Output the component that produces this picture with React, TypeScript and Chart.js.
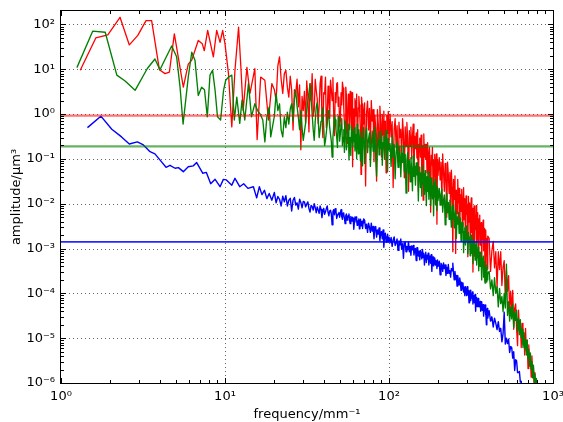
import { useEffect, useRef } from 'react';
import { Chart, registerables } from 'chart.js';

Chart.register(...registerables);

// ---------- data ----------
const redLowFreq = [1.31, 1.63, 1.93, 2.29, 2.61, 2.94, 3.3, 3.57, 3.98, 4.31, 4.58, 4.91, 5.57, 5.97, 6.27, 6.87, 7.27, 7.48, 7.84, 8.49, 8.9, 9.33, 9.68, 10.0, 10.5, 11.0, 11.5, 12.1, 12.5, 12.9, 13.6, 14.2, 15.2, 15.7, 16.5, 17.5, 18.4, 19.3];
const redLowAmp = [9.5, 50, 59, 145, 35, 57, 122, 122, 9.8, 8.0, 8.6, 62, 4.0, 13, 16, 44, 37, 26, 74, 19, 74, 40, 74, 37, 8, 0.52, 9.5, 87, 11, 1.2, 11, 2.9, 10.4, 0.27, 6.7, 5.7, 0.74, 4.8];

const greenLowFreq = [1.25, 1.56, 1.86, 2.19, 2.46, 2.83, 3.36, 3.74, 4.01, 4.73, 5.07, 5.32, 5.55, 5.97, 6.27, 6.56, 6.87, 7.2, 7.5, 7.8, 8.1, 8.4, 8.7, 9.0, 9.4, 9.8, 10.1, 10.5, 11.0, 11.4, 11.8, 12.3, 12.7, 13.2, 13.9, 14.5, 15.2, 15.8, 16.4, 17.0, 17.5, 18.0, 18.6, 19.0];
const greenLowAmp = [10.9, 71, 67, 7.4, 5.5, 3.4, 10.4, 17, 9.8, 33, 19, 4.0, 0.6, 6.7, 24, 16, 2.6, 4.0, 3.5, 0.87, 7.4, 9.5, 3.4, 0.87, 0.74, 3.4, 5.7, 6.7, 7.4, 0.74, 2.4, 0.62, 2.05, 0.74, 4.8, 0.87, 1.7, 1.2, 1.0, 0.74, 0.24, 0.87, 1.45, 0.31];

const blueLowFreq = [1.45, 1.75, 2.04, 2.34, 2.61, 2.92, 3.18, 3.49, 3.74, 4.01, 4.37, 4.62, 4.96, 5.2, 5.57, 5.97, 6.4, 6.72, 7.31, 7.7, 8.18, 8.7, 9.33, 9.77, 10.2, 11.0, 11.5, 12.3, 13.0, 13.8, 14.9, 15.6, 16.2, 16.8, 17.4, 18.0, 18.6, 19.3];
const blueLowAmp = [0.5, 0.9, 0.46, 0.31, 0.215, 0.24, 0.205, 0.145, 0.13, 0.095, 0.065, 0.072, 0.062, 0.064, 0.052, 0.067, 0.07, 0.083, 0.048, 0.05, 0.028, 0.035, 0.024, 0.035, 0.034, 0.026, 0.037, 0.024, 0.028, 0.022, 0.024, 0.0135, 0.024, 0.016, 0.02, 0.013, 0.017, 0.012];

// dense part (shared frequency bins)
const bandFreq = [
  20, 20.5, 21, 21.5, 22, 22.5, 23, 23.5, 24, 24.5, 25, 25.5, 26, 26.5, 27, 27.5, 28, 28.5, 29, 29.5, 30,
  30.5, 31, 31.5, 32, 32.5, 33, 33.5, 34, 34.5, 35, 35.5, 36, 36.5, 37, 37.5, 38, 38.5, 39, 39.5, 40,
  40.5, 41, 41.5, 42, 42.5, 43, 43.5, 44, 44.5, 45, 45.5, 46, 46.5, 47, 47.5, 48, 48.5, 49, 49.5, 50,
  50.5, 51, 51.5, 52, 52.5, 53, 53.5, 54, 54.5, 55, 55.5, 56, 56.5, 57, 57.5, 58, 58.5, 59, 59.5, 60,
  60.5, 61, 61.5, 62, 62.5, 63, 63.5, 64, 64.5, 65, 65.5, 66, 66.5, 67, 67.5, 68, 68.5, 69, 69.5, 70,
  71, 72, 73, 74, 75, 76, 77, 78, 79, 80, 81, 82, 83, 84, 85, 86, 87, 88, 89, 90,
  91, 92, 93, 94, 95, 96, 97, 98, 99, 100,
  101.5, 103, 104.5, 106, 107.5, 109, 110.5, 112, 113.5, 115, 116.5, 118, 119.5, 121, 122.5, 124, 125.5, 127, 128.5, 130,
  131.5, 133, 134.5, 136, 137.5, 139, 140.5, 142, 143.5, 145, 146.5, 148, 149.5, 151, 152.5, 154, 155.5, 157, 158.5, 160,
  161.5, 163, 164.5, 166, 167.5, 169, 170.5, 172, 173.5, 175, 176.5, 178, 179.5, 181, 182.5, 184, 185.5, 187, 188.5, 190,
  191.5, 193, 194.5, 196, 197.5, 199,
  202.5, 205, 207.5, 210, 212.5, 215, 217.5, 220, 222.5, 225, 227.5, 230, 232.5, 235, 237.5, 240, 242.5, 245, 247.5, 250,
  252.5, 255, 257.5, 260, 262.5, 265, 267.5, 270, 272.5, 275, 277.5, 280, 282.5, 285, 287.5, 290, 292.5, 295, 297.5, 300,
  302.5, 305, 307.5, 310, 312.5, 315, 317.5, 320, 322.5, 325, 327.5, 330, 332.5, 335, 337.5, 340, 342.5, 345, 347.5, 350,
  352.5, 355, 357.5, 360, 362.5, 365, 367.5, 370, 372.5, 375, 377.5, 380, 382.5, 385, 387.5, 390, 392.5, 395, 397.5, 400,
  408, 416, 424, 432, 440, 448, 456, 464, 472, 480, 488, 496, 504, 512, 520, 528, 536, 544, 552, 560,
  568, 576, 584, 592, 600, 608, 616, 624, 632, 640, 648, 656, 664, 672, 680, 688, 696, 704, 712, 720,
  728, 736, 744, 752, 760, 768, 776, 784, 792, 800, 808, 816, 824, 832, 840, 848,
];

const redBandAmp = [
  3.5, 2.0, 12, 19, 6, 2.9, 8, 9.5, 4.0, 2.4, 7, 3.4, 0.44, 3.5, 2.9, 6, 1.45, 4.5, 0.16, 2.5, 1.2,
  3.2, 0.63, 5.5, 2.5, 0.4, 4.8, 2.0, 8.0, 0.9, 1.2, 6.0, 3.4, 2.2, 0.62, 1.5, 4.8, 7.0, 0.87, 0.3, 3.0,
  2.8, 6.7, 0.5, 1.0, 4.2, 1.7, 0.8, 5.7, 3.6, 2.0, 6.5, 0.95, 0.33, 3.0, 1.8, 4.8, 5.0, 1.5, 2.4, 0.52,
  0.7, 3.0, 1.6, 5.2, 3.8, 1.4, 0.6, 0.37, 4.0, 2.6, 0.22, 0.9, 2.8, 1.2, 0.45, 3.2, 1.9, 0.5, 3.0, 0.067,
  1.3, 0.74, 0.28, 2.2, 0.9, 2.0, 2.8, 0.26, 0.5, 1.4, 2.5, 1.6, 0.8, 0.35, 0.045, 2.4, 1.7, 0.16, 0.6, 1.1,
  1.78, 0.025, 1.1, 1.95, 0.44, 1.35, 0.21, 2.0, 0.7, 1.26, 0.087, 0.95, 0.47, 0.032, 1.26, 0.62, 0.24, 1.5, 0.65, 0.11,
  0.98, 0.34, 1.17, 0.16, 0.7, 0.049, 0.95, 0.37, 1.15, 0.22,
  1.0, 0.31, 0.68, 0.023, 0.46, 0.79, 0.18, 0.55, 0.085, 0.66, 0.3, 0.46, 0.1, 0.79, 0.35, 0.038, 0.52, 0.19, 0.65, 0.28,
  0.019, 0.43, 0.19, 0.51, 0.1, 0.31, 0.6, 0.047, 0.32, 0.17, 0.38, 0.105, 0.45, 0.019, 0.21, 0.29, 0.11, 0.34, 0.047, 0.2,
  0.012, 0.36, 0.11, 0.21, 0.1, 0.21, 0.049, 0.23, 0.025, 0.12, 0.18, 0.06, 0.0065, 0.12, 0.074, 0.18, 0.025, 0.093, 0.041, 0.126,
  0.0098, 0.076, 0.13, 0.0035, 0.098, 0.043,
  0.107, 0.034, 0.085, 0.013, 0.129, 0.05, 0.019, 0.079, 0.034, 0.005, 0.085, 0.045, 0.017, 0.05, 0.0076, 0.056, 0.023, 0.00085, 0.035, 0.0126,
  0.042, 0.00078, 0.02, 0.006, 0.035, 0.0105, 0.022, 0.0023, 0.016, 0.0068, 0.021, 0.0032, 0.0107, 0.023, 0.0044, 0.013, 0.00126, 0.015, 0.0058, 0.0098,
  0.00066, 0.0145, 0.0039, 0.0105, 0.0018, 0.0071, 0.0135, 0.0023, 0.0079, 0.0003, 0.0047, 0.0089, 0.00068, 0.0056, 0.0027, 0.0091, 0.0014, 0.0042, 0.0063, 0.00076,
  0.0046, 0.0021, 0.0056, 0.0012, 0.0028, 0.0038, 0.0004, 0.003, 0.0016, 0.0043, 0.00089, 0.0021, 0.0028, 0.00019, 0.00155, 0.0026, 0.00069, 0.00166, 0.00035, 0.0019,
  0.0017, 0.00031, 0.00089, 0.00145, 0.00037, 0.00085, 0.000135, 0.00085, 0.00034, 0.00085, 0.00015, 0.00038, 0.00054, 0.000074, 0.00032, 0.000112, 0.00025, 0.00004, 0.000112, 0.000041,
  0.000117, 0.0000158, 0.000047, 0.000058, 0.0000158, 0.0000068, 0.000042, 0.0000162, 0.000025, 0.0000062, 0.0000214, 0.0000074, 0.0000132, 0.0000042, 0.0000166, 0.0000051, 0.0000089, 0.0000021, 0.0000071, 0.0000024,
  0.000004, 0.00000135, 0.000004, 0.00000135, 0.0000022, 0.00000083, 0.0000017, 0.00000069, 0.0000011, 0.00000048, 0.0000008, 0.00000038, 0.00000056, 0.0000003, 0.0000004, 0.0000002,
];

const greenBandAmp = [
  0.9, 2.9, 1.2, 1.7, 0.44, 0.31, 0.87, 0.5, 1.1, 0.6, 1.3, 1.7, 0.7, 2.2, 3.4, 1.5, 0.87, 0.45, 1.2, 0.5, 0.26,
  0.4, 0.63, 1.2, 2.0, 3.0, 4.8, 2.2, 1.0, 0.45, 0.26, 0.7, 1.45, 1.8, 0.8, 0.3, 0.44, 0.7, 1.1, 1.4, 0.5,
  0.2, 0.26, 0.4, 0.6, 1.2, 0.87, 0.5, 0.35, 0.25, 0.11, 0.3, 0.5, 1.0, 0.74, 0.45, 0.3, 0.18, 0.9, 0.6, 0.25,
  0.35, 0.6, 0.8, 0.2, 0.3, 0.45, 0.14, 0.7, 0.5, 0.16, 0.3, 0.4, 0.6, 0.095, 0.2, 0.3, 0.12, 0.55, 0.4, 0.2,
  0.25, 0.44, 0.5, 0.15, 0.28, 0.35, 0.1, 0.6, 0.35, 0.13, 0.45, 0.3, 0.18, 0.09, 0.3, 0.4, 0.07, 0.2, 0.28, 0.5,
  0.079, 0.35, 0.49, 0.138, 0.275, 0.38, 0.068, 0.21, 0.42, 0.148, 0.295, 0.51, 0.102, 0.041, 0.224, 0.4, 0.123, 0.27, 0.17, 0.42,
  0.072, 0.23, 0.32, 0.098, 0.275, 0.43, 0.132, 0.052, 0.29, 0.158,
  0.22, 0.068, 0.33, 0.11, 0.21, 0.036, 0.14, 0.24, 0.065, 0.138, 0.19, 0.04, 0.135, 0.083, 0.195, 0.052, 0.126, 0.0174, 0.093, 0.14,
  0.048, 0.091, 0.031, 0.107, 0.058, 0.0195, 0.117, 0.041, 0.069, 0.026, 0.081, 0.044, 0.083, 0.0115, 0.049, 0.066, 0.023, 0.049, 0.0148, 0.071,
  0.0275, 0.047, 0.0162, 0.055, 0.027, 0.0091, 0.04, 0.019, 0.052, 0.0126, 0.031, 0.037, 0.0091, 0.0245, 0.038, 0.0129, 0.025, 0.0054, 0.0295, 0.0141,
  0.035, 0.0093, 0.0204, 0.0071, 0.024, 0.0117,
  0.022, 0.0093, 0.0158, 0.0214, 0.0065, 0.012, 0.0158, 0.0034, 0.0115, 0.017, 0.0063, 0.0107, 0.0045, 0.012, 0.0063, 0.003, 0.0087, 0.0046, 0.0098, 0.0029,
  0.0055, 0.0072, 0.0017, 0.0051, 0.0035, 0.0065, 0.0022, 0.0036, 0.0048, 0.00145, 0.0038, 0.0023, 0.0038, 0.00081, 0.0024, 0.0029, 0.0012, 0.0032, 0.0015, 0.002,
  0.00076, 0.0023, 0.00135, 0.0018, 0.00069, 0.00135, 0.002, 0.00078, 0.00132, 0.00046, 0.00155, 0.00083, 0.00126, 0.00055, 0.00093, 0.0014, 0.00043, 0.00093, 0.00063, 0.00107,
  0.00032, 0.00069, 0.00083, 0.0004, 0.00083, 0.00044, 0.0002, 0.0006, 0.00041, 0.00068, 0.00023, 0.00043, 0.00051, 0.00017, 0.00032, 0.00038, 0.00018, 0.00043, 0.0002, 0.00027,
  0.00031, 0.000126, 0.0002, 0.000089, 0.000224, 0.0001, 0.000141, 0.00005, 0.000129, 0.000059, 0.000085, 0.000039, 0.0001, 0.000047, 0.00045, 0.000032, 0.000065, 0.000024, 0.00005, 0.000027,
  0.000058, 0.0000174, 0.000038, 0.000025, 0.000042, 0.0000145, 0.000028, 0.000012, 0.000026, 0.0000102, 0.0000158, 0.0000062, 0.0000135, 0.0000059, 0.0000093, 0.0000042, 0.0000091, 0.0000035, 0.0000056, 0.0000024,
  0.0000047, 0.000002, 0.000003, 0.0000013, 0.0000025, 0.00000105, 0.0000016, 0.00000083, 0.00000126, 0.0000006, 0.0000008, 0.00000043, 0.00000056, 0.0000003, 0.00000045, 0.00000021,
];

const blueBandAmp = [
  0.0178, 0.0105, 0.0145, 0.0126, 0.0089, 0.0148, 0.011, 0.0151, 0.0089, 0.012, 0.0132, 0.0069, 0.012, 0.0138, 0.0093, 0.0105, 0.0076, 0.0126, 0.0107, 0.0081, 0.0112,
  0.011, 0.0085, 0.0098, 0.011, 0.0078, 0.0065, 0.0092, 0.0087, 0.0072, 0.01, 0.0082, 0.0063, 0.0085, 0.0072, 0.0061, 0.0089, 0.0075, 0.0049, 0.0068, 0.0079,
  0.0058, 0.0066, 0.0078, 0.0089, 0.0064, 0.0054, 0.0069, 0.0072, 0.0059, 0.0034, 0.0066, 0.0074, 0.0057, 0.0078, 0.0068, 0.0047, 0.0055, 0.006, 0.0064, 0.005,
  0.0061, 0.0074, 0.0052, 0.0045, 0.0062, 0.0059, 0.0047, 0.0036, 0.0054, 0.0059, 0.0043, 0.0048, 0.0055, 0.0059, 0.0042, 0.0036, 0.0052, 0.0048, 0.0041, 0.005,
  0.0047, 0.0027, 0.0039, 0.0051, 0.0044, 0.0051, 0.0042, 0.0033, 0.0037, 0.0043, 0.0046, 0.00275, 0.0038, 0.0045, 0.0032, 0.0036, 0.0041, 0.0028, 0.0037, 0.0046,
  0.0043, 0.0028, 0.0035, 0.0023, 0.0037, 0.003, 0.0023, 0.0037, 0.00245, 0.0031, 0.00166, 0.0028, 0.0031, 0.0018, 0.0026, 0.0021, 0.0029, 0.0015, 0.0022, 0.0024,
  0.00166, 0.0026, 0.00107, 0.002, 0.0022, 0.00138, 0.0017, 0.0021, 0.0014, 0.0018,
  0.00135, 0.00178, 0.00112, 0.00155, 0.00182, 0.00117, 0.00135, 0.00163, 0.00091, 0.00148, 0.0012, 0.00163, 0.00098, 0.00129, 0.00061, 0.00135, 0.00141, 0.00085, 0.00112, 0.00094,
  0.00141, 0.00085, 0.00112, 0.00071, 0.00115, 0.00094, 0.00117, 0.00072, 0.00096, 0.001, 0.00054, 0.00105, 0.00105, 0.00068, 0.00087, 0.00056, 0.00091, 0.00076, 0.00059, 0.00096,
  0.00063, 0.00079, 0.00043, 0.00072, 0.00083, 0.00049, 0.00071, 0.00058, 0.00079, 0.00043, 0.00062, 0.00068, 0.00047, 0.00073, 0.00031, 0.00059, 0.00065, 0.00041, 0.0005, 0.00062,
  0.00043, 0.00054, 0.00052, 0.00036, 0.00056, 0.0004,
  0.00052, 0.00026, 0.00047, 0.00043, 0.00031, 0.00048, 0.00036, 0.00043, 0.00025, 0.00038, 0.00028, 0.00044, 0.00028, 0.00032, 0.00023, 0.00036, 0.00032, 0.00047, 0.00028, 0.0002,
  0.00031, 0.00021, 0.00025, 0.000145, 0.00025, 0.00019, 0.000155, 0.00022, 0.000174, 0.000117, 0.000178, 0.000126, 0.00017, 0.000107, 0.000138, 0.000089, 0.000141, 0.000115, 0.000089, 0.000141,
  0.000093, 0.000117, 0.000062, 0.000102, 0.000117, 0.000069, 0.000098, 0.000079, 0.000107, 0.000058, 0.000081, 0.000089, 0.000062, 0.000095, 0.00004, 0.000074, 0.000081, 0.000051, 0.000063, 0.000077,
  0.000051, 0.000065, 0.00005, 0.000066, 0.00004, 0.000055, 0.000065, 0.000042, 0.000048, 0.000056, 0.000031, 0.00005, 0.000041, 0.000055, 0.000033, 0.000043, 0.00002, 0.000044, 0.000046, 0.000028,
  0.000041, 0.000024, 0.00003, 0.0000178, 0.000028, 0.0000214, 0.0000155, 0.0000234, 0.0000141, 0.0000166, 0.0000083, 0.0000126, 0.000038, 0.0000074, 0.00001, 0.0000076, 0.0000095, 0.0000048, 0.0000065, 0.0000062,
  0.0000036, 0.000005, 0.0000019, 0.0000033, 0.0000031, 0.0000017, 0.0000017, 0.0000018, 0.00000105, 0.0000011, 0.00000066, 0.00000085, 0.00000054, 0.00000056,
];

// horizontal reference levels
const redLevel = 0.93;
const greenLevel = 0.19;
const blueLevel = 0.00141;

// axes
const xMajorTicks = [1, 10, 100, 1000];
const yMajorTicks = [1e-6, 1e-5, 1e-4, 1e-3, 1e-2, 1e-1, 1, 10, 100];
const xRange = [1, 1000];
const yRange = [1e-6, 200];
const xTitle = 'frequency/mm⁻¹';
const yTitle = 'amplitude/µm³';

// ---------- helpers ----------
const SUP: Record<string, string> = { '-': '⁻', '0': '⁰', '1': '¹', '2': '²', '3': '³', '4': '⁴', '5': '⁵', '6': '⁶', '7': '⁷', '8': '⁸', '9': '⁹' };
const isMajor = (v: number) => {
  const e = Math.log10(v);
  return Math.abs(e - Math.round(e)) < 1e-6;
};
const powLabel = (v: number) => {
  if (!isMajor(v)) return '';
  const e = String(Math.round(Math.log10(v)));
  return '10' + e.split('').map((c) => SUP[c]).join('');
};
const withMinors = (majors: number[], max: number) => {
  const out: number[] = [];
  majors.forEach((m) => {
    out.push(m);
    for (let k = 2; k <= 9; k++) {
      const v = Number((k * m).toPrecision(6));
      if (v < max) out.push(v);
    }
  });
  return out.filter((v) => v <= max).sort((a, b) => a - b);
};
const pts = (f: number[], a: number[]) => a.map((v, i) => ({ x: f[i], y: v }));

const FONT = "'DejaVu Sans', 'Liberation Sans', sans-serif";

const frameTicks = {
  id: 'frameTicks',
  beforeDatasetsDraw(chart: any) {
    const { ctx, chartArea: a, scales } = chart;
    ctx.save();
    ctx.strokeStyle = 'rgba(0,0,0,0.6)';
    ctx.lineWidth = 1;
    ctx.setLineDash([1, 3]);
    for (const t of scales.x.ticks) {
      if (!isMajor(t.value)) continue;
      const p = Math.round(scales.x.getPixelForValue(t.value)) + 0.5;
      if (p <= a.left + 2 || p >= a.right - 2) continue;
      ctx.beginPath(); ctx.moveTo(p, a.top); ctx.lineTo(p, a.bottom); ctx.stroke();
    }
    for (const t of scales.y.ticks) {
      if (!isMajor(t.value)) continue;
      const p = Math.round(scales.y.getPixelForValue(t.value)) + 0.5;
      if (p <= a.top + 2 || p >= a.bottom - 2) continue;
      ctx.beginPath(); ctx.moveTo(a.left, p); ctx.lineTo(a.right, p); ctx.stroke();
    }
    ctx.restore();
  },
  afterDatasetsDraw(chart: any) {
    const { ctx, chartArea: a, scales } = chart;
    ctx.save();
    ctx.strokeStyle = '#000';
    ctx.lineWidth = 1;
    ctx.setLineDash([]);
    for (const t of scales.x.ticks) {
      const len = isMajor(t.value) ? 5 : 3;
      const p = Math.round(scales.x.getPixelForValue(t.value)) + 0.5;
      ctx.beginPath();
      ctx.moveTo(p, a.bottom); ctx.lineTo(p, a.bottom - len);
      ctx.moveTo(p, a.top); ctx.lineTo(p, a.top + len);
      ctx.stroke();
    }
    for (const t of scales.y.ticks) {
      const len = isMajor(t.value) ? 5 : 3;
      const p = Math.round(scales.y.getPixelForValue(t.value)) + 0.5;
      ctx.beginPath();
      ctx.moveTo(a.left, p); ctx.lineTo(a.left + len, p);
      ctx.moveTo(a.right, p); ctx.lineTo(a.right - len, p);
      ctx.stroke();
    }
    ctx.strokeRect(a.left - 0.5, a.top - 0.5, a.right - a.left + 1, a.bottom - a.top + 1);
    ctx.restore();
  },
};

export default function App() {
  const ref = useRef<HTMLCanvasElement>(null);

  useEffect(() => {
    if (!ref.current) return;
    const line = (label: string, data: any[], color: string, width: number) => ({
      label,
      data,
      borderColor: color,
      backgroundColor: color,
      borderWidth: width,
      pointRadius: 0,
      tension: 0,
      fill: false,
      borderJoinStyle: 'round',
    });
    const xTicks = withMinors(xMajorTicks, xRange[1]);
    const yTicks = withMinors(yMajorTicks, yRange[1]).filter((v) => v < yRange[1]);

    const chart = new Chart(ref.current, {
      type: 'line',
      data: {
        datasets: [
          line('red level', [{ x: xRange[0], y: redLevel }, { x: xRange[1], y: redLevel }], 'rgba(255,0,0,0.55)', 2.2),
          line('green level', [{ x: xRange[0], y: greenLevel }, { x: xRange[1], y: greenLevel }], 'rgba(0,128,0,0.6)', 2.2),
          line('blue level', [{ x: xRange[0], y: blueLevel }, { x: xRange[1], y: blueLevel }], 'rgba(0,0,255,0.85)', 1.6),
          line('blue', [...pts(blueLowFreq, blueLowAmp), ...pts(bandFreq, blueBandAmp)], '#0000ff', 1.4),
          line('green', [...pts(greenLowFreq, greenLowAmp), ...pts(bandFreq, greenBandAmp)], '#008000', 1.35),
          line('red', [...pts(redLowFreq, redLowAmp), ...pts(bandFreq, redBandAmp)], '#ff0000', 1.3),
        ] as any,
      },
      options: {
        responsive: false,
        animation: false,
        devicePixelRatio: 1,
        parsing: false,
        events: [],
        layout: { padding: { top: 11, right: 10, left: 0, bottom: 0 } },
        plugins: { legend: { display: false }, tooltip: { enabled: false } },
        scales: {
          x: {
            type: 'logarithmic',
            min: xRange[0],
            max: xRange[1],
            afterBuildTicks: (s: any) => { s.ticks = xTicks.map((v) => ({ value: v })); },
            afterFit: (s: any) => { s.height = 39; s.paddingLeft = 0; s.paddingRight = 0; },
            grid: { display: false, drawTicks: false },
            border: { display: false },
            ticks: {
              autoSkip: false, maxRotation: 0, minRotation: 0, padding: 6, color: '#000',
              font: { family: FONT, size: 13 },
              callback: (v: any) => powLabel(Number(v)),
            },
            title: { display: true, text: xTitle, color: '#000', font: { family: FONT, size: 13 }, padding: { top: 0, bottom: 0 } },
          },
          y: {
            type: 'logarithmic',
            min: yRange[0],
            max: yRange[1],
            afterBuildTicks: (s: any) => { s.ticks = yTicks.map((v) => ({ value: v })); },
            afterFit: (s: any) => { s.width = 61; s.paddingTop = 0; s.paddingBottom = 0; },
            grid: { display: false, drawTicks: false },
            border: { display: false },
            ticks: {
              autoSkip: false, padding: 6, color: '#000',
              font: { family: FONT, size: 13 },
              callback: (v: any) => powLabel(Number(v)),
            },
            title: { display: true, text: yTitle, color: '#000', font: { family: FONT, size: 13 }, padding: { top: 9, bottom: 0 } },
          },
        },
      } as any,
      plugins: [frameTicks],
    });
    return () => chart.destroy();
  }, []);

  return (
    <div style={{ position: 'absolute', left: 0, top: 0, width: 563, height: 422, background: '#fff' }}>
      <canvas ref={ref} width={563} height={422} style={{ display: 'block' }} />
    </div>
  );
}
